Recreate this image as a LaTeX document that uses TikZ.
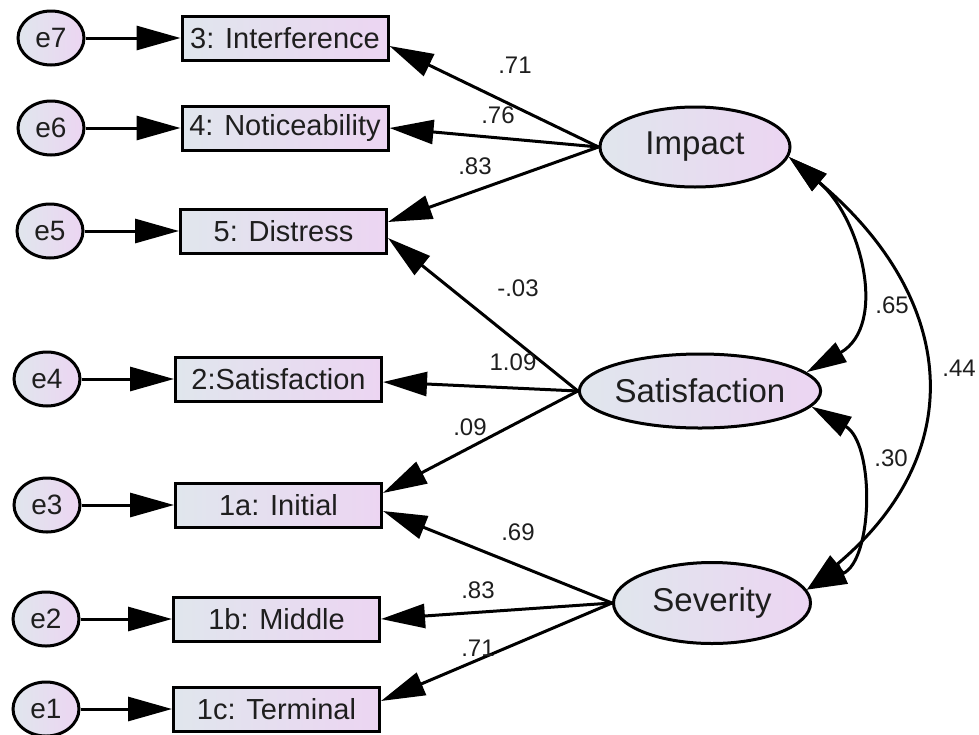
\documentclass[tikz,border=0pt]{standalone}
\usepackage{fontspec}
\setmainfont{Liberation Sans}
\usetikzlibrary{shapes.geometric,arrows.meta}
\definecolor{fillleft}{RGB}{224,230,237}
\definecolor{fillright}{RGB}{236,213,242}
\definecolor{ink}{RGB}{30,30,30}

\begin{document}
\begin{tikzpicture}[x=0.5pt, y=-0.5pt,
	obs/.style={
		rectangle,
		draw,
		line width=1.5pt,
		left color=fillleft,
		right color=fillright,
		text=ink,
		minimum width=103pt,
		minimum height=22pt,
		inner sep=0pt,
		font=\fontsize{14.5pt}{17pt}\selectfont},
	err/.style={
		ellipse,
		draw,
		line width=1.5pt,
		left color=fillleft,
		right color=fillright,
		text=ink,
		minimum width=33pt,
		minimum height=27pt,
		inner sep=0pt,
		font=\fontsize{14pt}{16pt}\selectfont},
	lat/.style 2 args={
		ellipse,
		draw,
		line width=1.5pt,
		left color=fillleft,
		right color=fillright,
		text=ink,
		minimum width=#1,
		minimum height=#2,
		inner sep=0pt,
		font=\fontsize{16.5pt}{19pt}\selectfont},
	coef/.style={inner sep=0pt, text=ink, font=\fontsize{12pt}{14pt}\selectfont},
	load/.style={line width=1.5pt, -{Triangle[length=22pt, width=12pt]}},
	cov/.style={line width=1.5pt, {Triangle[length=20pt, width=11pt]}-{Triangle[length=20pt, width=11pt]}}]
	\useasboundingbox (0,0) rectangle (979,734);
	% draw measured items and their error terms
	\foreach \y/\xb/\xe/\t [count=\k from 1] in {38/285/51/{3: Interference}, 128/285/51/{4: Noticeability}, 231/283.5/50/{5: Distress}, 379/278.5/47/{2:Satisfaction}, 505/278.5/47/{1a: Initial}, 619/276.5/46/{1b: Middle}, 709/276.5/46/{1c: Terminal}} {
		\pgfmathtruncatemacro{\en}{8-\k}
		\node[obs] (m\k) at (\xb, \y) {\t};
		\node[err] (err\k) at (\xe, \y) {e\en};
		\draw[load] (err\k.east) -- (m\k.west);
	}
	% draw latent factors
	\node[lat={95pt}{40pt}] (imp) at (695,147) {Impact};
	\node[lat={101pt}{37pt}] (sat) at (700,391) {Satisfaction};
	\node[lat={98.5pt}{40.5pt}] (sev) at (712,603) {Severity};
	% draw loadings of impact
	\draw[load] (imp.west) -- ([yshift=-4pt]m1.east);
	\draw[load] (imp.west) -- (m2.east);
	\draw[load] (imp.west) -- ([yshift=4.5pt]m3.east);
	% draw loadings of satisfaction
	\draw[load] (sat.west) -- ([yshift=-3.5pt]m3.east);
	\draw[load] (sat.west) -- ([yshift=-1.5pt]m4.east);
	\draw[load] (sat.west) -- ([yshift=6pt]m5.east);
	% draw loadings of severity
	\draw[load] (sev.west) -- ([yshift=-3pt]m5.east);
	\draw[load] (sev.west) -- (m6.east);
	\draw[load] (sev.west) -- ([yshift=4pt]m7.east);
	% draw covariances
	\draw[cov] (imp.-6) to[out=-40, in=30, looseness=1.12] (sat.10);
	\draw[cov] (sat.-8) to[out=-30, in=24, looseness=1.02] (sev.8);
	\draw[cov] (imp.-6) to[out=-40, in=40, looseness=1.28] (sev.8);
	% draw coefficients
	\node[coef] (c1) at (515,65) {.71};
	\node[coef] (c2) at (498,115) {.76};
	\node[coef] (c3) at (475,166) {.83};
	\node[coef] (c4) at (518,288) {-.03};
	\node[coef] (c5) at (513,362) {1.09};
	\node[coef] (c6) at (470,427) {.09};
	\node[coef] (c7) at (518,532) {.69};
	\node[coef] (c8) at (478,590) {.83};
	\node[coef] (c9) at (478,648) {.71};
	\node[coef] (c10) at (892,305) {.65};
	\node[coef] (c11) at (891,458) {.30};
	\node[coef] (c12) at (959,368) {.44};
\end{tikzpicture}
\end{document}
